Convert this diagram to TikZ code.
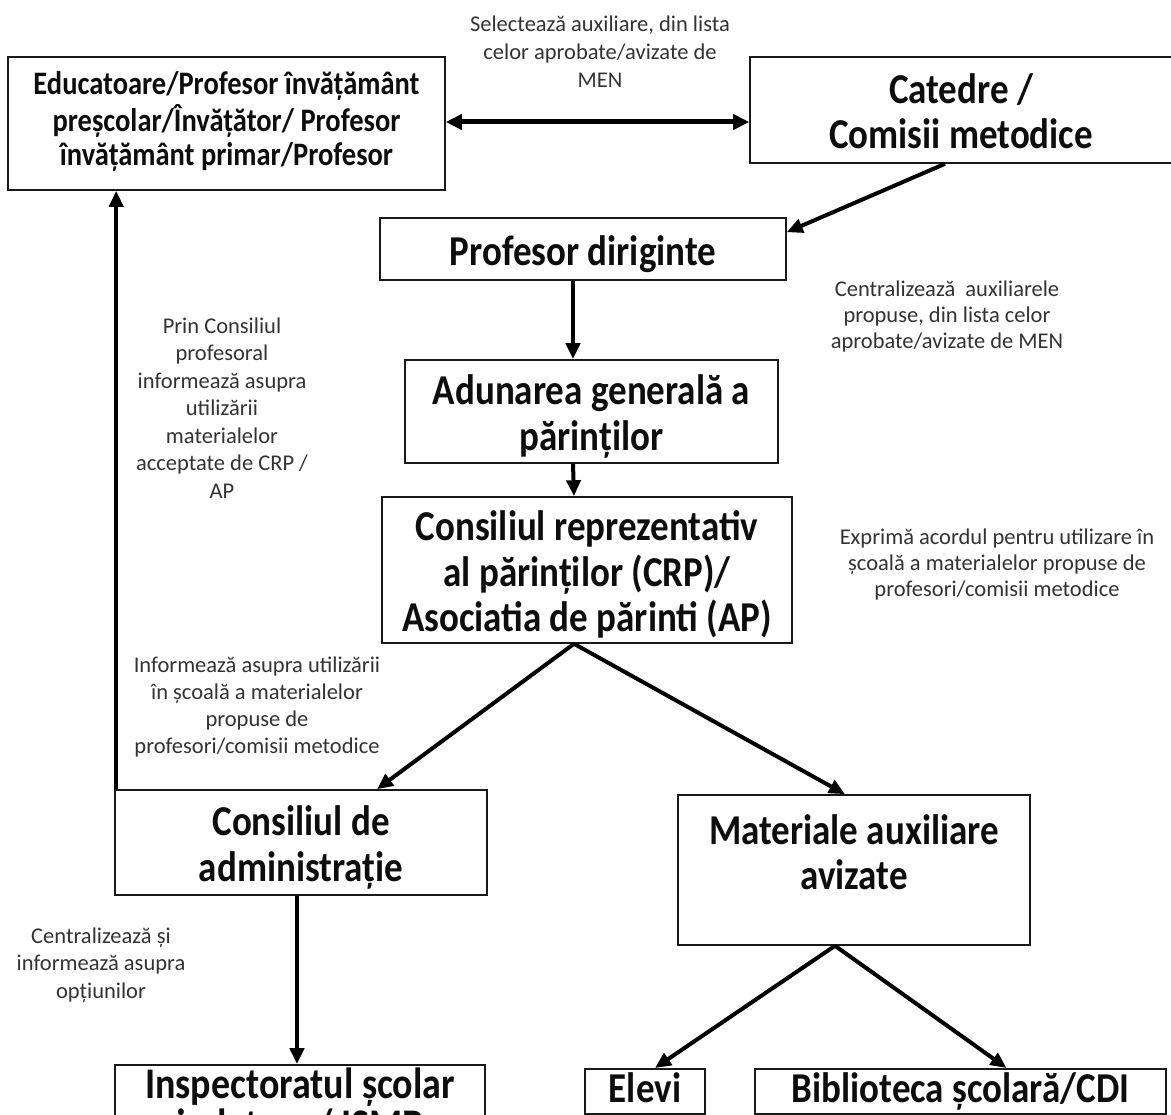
\documentclass[tikz,border=0pt]{standalone}
\usepackage{fontspec}
\usepackage{graphicx}
\setmainfont{Carlito}
\usetikzlibrary{arrows.meta,calc}
\newcommand{\vtx}[2][-7pt]{\raisebox{#1}[\height][\depth]{\scalebox{1}[1.15]{\begin{tabular}{@{}c@{}}#2\end{tabular}}}}
\begin{document}
\begin{tikzpicture}[x=1pt,y=-1pt,
  box/.style={draw=black!90, line width=1.6pt, inner sep=0pt, align=center, text=black!95,
    font=\bfseries\fontsize{37}{39.5}\selectfont},
  btxt/.style={inner sep=0pt, align=center, text=black!95, font=\bfseries\fontsize{37}{39.5}\selectfont},
  smallbox/.style={box, font=\bfseries\fontsize{28.5}{29.5}\selectfont},
  lbl/.style={align=center, inner sep=0pt, text=black!80, font=\fontsize{22.5}{26}\selectfont},
  arr/.style={line width=4pt, -{Triangle[length=16pt,width=14pt]}},
  darr/.style={line width=5pt, {Triangle[length=16pt,width=15pt]}-{Triangle[length=16pt,width=15pt]}},
]
\fill[white] (0,0) rectangle (1171,1115);
\clip (0,0) rectangle (1171,1115);

% boxes
\node[smallbox, minimum width=437pt, minimum height=133pt] (edu) at (226.5,123.5)
  {\vtx[0pt]{Educatoare/Profesor învățământ\\preșcolar/Învățător/ Profesor\\învățământ primar/Profesor}};
\node[box, minimum width=422pt, minimum height=106pt] (cat) at (961,110)
  {\vtx{Catedre /\\Comisii metodice}};
\node[box, minimum width=406pt, minimum height=62pt] (dir) at (583,249)
  {\vtx{Profesor diriginte}};
\node[box, minimum width=373pt, minimum height=103pt] (adu) at (591.5,411.5)
  {\vtx{Adunarea generală a\\părinților}};
\node[box, minimum width=410pt, minimum height=146pt] (crp) at (587,570)
  {\vtx{Consiliul reprezentativ\\al părinților (CRP)/\\Asociatia de părinti (AP)}};
\node[box, minimum width=372pt, minimum height=105pt] (cda) at (301,842.5)
  {\vtx{Consiliul de\\administrație}};
\node[box, minimum width=352pt, minimum height=150pt] (mat) at (854,870) {};
\node[btxt] (matt) at (854,851) {\vtx{Materiale auxiliare\\avizate}};
\node[box, minimum width=370pt, minimum height=95pt] (isj) at (300,1112.5) {};
\node[btxt, font=\bfseries\fontsize{38}{29}\selectfont] (isjt) at (300,1102)
  {\vtx{Inspectoratul școlar\\judetean/ ISMB}};
\node[box, minimum width=120pt, minimum height=43pt] (ele) at (645,1091.5) {\vtx[-2pt]{Elevi}};
\node[box, minimum width=411pt, minimum height=43pt] (bib) at (960.5,1091.5) {\vtx[-2pt]{Biblioteca școlară/CDI}};

% labels
\node[lbl, font=\fontsize{22.5}{28}\selectfont] (l1) at (600,52)
  {Selectează auxiliare, din lista\\celor aprobate/avizate de\\MEN};
\node[lbl] (l2) at (947,317)
  {Centralizează \ auxiliarele\\propuse, din lista celor\\aprobate/avizate de MEN};
\node[lbl] (l3) at (997,565)
  {Exprimă acordul pentru utilizare în\\școală a materialelor propuse de\\profesori/comisii metodice};
\node[lbl, font=\fontsize{22.5}{27.5}\selectfont] (l4) at (222,408)
  {Prin Consiliul\\profesoral\\informează asupra\\utilizării\\materialelor\\acceptate de CRP /\\AP};
\node[lbl, font=\fontsize{22.5}{27}\selectfont] (l5) at (257,707)
  {Informează asupra utilizării\\în școală a materialelor\\propuse de\\profesori/comisii metodice};
\node[lbl, font=\fontsize{22.5}{27.5}\selectfont] (l6) at (101,965)
  {Centralizează și\\informează asupra\\opțiunilor};

% connectors
\draw[darr] ([yshift=1.5pt]edu.east) -- ([yshift=1.5pt]edu.east -| cat.west);
\draw[arr] ([xshift=-16pt]cat.south) -- ([yshift=-15pt]dir.north east);
\draw[arr] ([xshift=-10pt]dir.south) -- ([xshift=-18.5pt]adu.north);
\draw[arr] ([xshift=-18.5pt]adu.south) -- ([xshift=-13pt]crp.north);
\draw[arr] ([xshift=-13pt]crp.south) -- ([xshift=76pt]cda.north);
\draw[arr] ([xshift=-13pt]crp.south) -- ([xshift=-9pt]mat.north);
\draw[arr] ([xshift=-4pt]cda.south) -- ([xshift=-3pt]isj.north);
\draw[arr] ([xshift=2pt]cda.north west) -- ([xshift=2pt]cda.north west |- edu.south);
\draw[arr] ([xshift=-19pt]mat.south) -- ([xshift=10pt]ele.north);
\draw[arr] ([xshift=-19pt]mat.south) -- ([xshift=46pt]bib.north);
\end{tikzpicture}
\end{document}
